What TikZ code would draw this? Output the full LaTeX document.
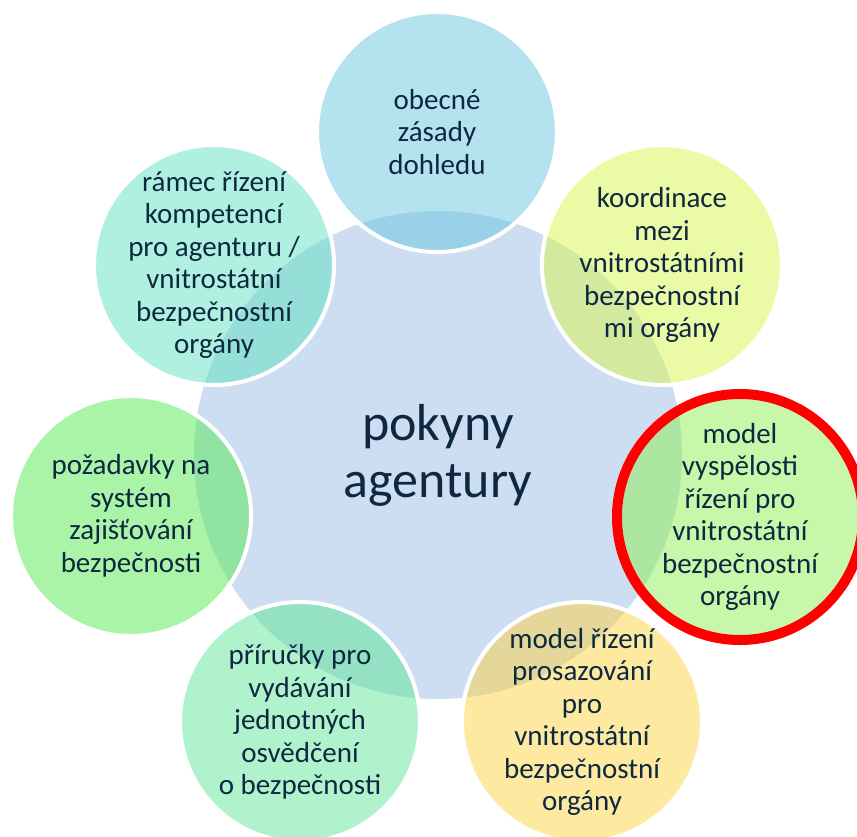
\documentclass[tikz,border=0pt]{standalone}
\usepackage{fontspec}
\setmainfont{Carlito}
\definecolor{centerc}{RGB}{205,221,242}
\definecolor{cT}{RGB}{105,199,223}
\definecolor{cTR}{RGB}{215,245,75}
\definecolor{cR}{RGB}{143,239,81}
\definecolor{cBR}{RGB}{251,211,65}
\definecolor{cBL}{RGB}{95,229,151}
\definecolor{cL}{RGB}{85,233,79}
\definecolor{cTL}{RGB}{97,225,193}
\definecolor{txt}{RGB}{14,40,65}
\definecolor{ring}{RGB}{255,0,0}
\tikzset{
  outer/.style={circle, minimum size=240pt, inner sep=0pt, draw=white, line width=4pt, fill opacity=0.5, draw opacity=1},
  lbl/.style={align=center, text=txt, inner sep=0pt, font=\fontsize{29}{32.5}\selectfont},
  centrelbl/.style={align=center, text=txt, inner sep=0pt, font=\fontsize{52}{57}\selectfont}
}
\begin{document}
\begin{tikzpicture}[x=1pt,y=-1pt]
\useasboundingbox (0,0) rectangle (857,836);
\node[circle, minimum size=488pt, inner sep=0pt, fill=centerc] (c) at (438,455) {};
\node[outer, fill=cT]  (t)  at (437,132) {};
\node[outer, fill=cTR] (tr) at (662,265) {};
\node[outer, fill=cR]  (r)  at (740,517) {};
\node[outer, fill=cBR] (br) at (582,722) {};
\node[outer, fill=cBL] (bl) at (300,722) {};
\node[outer, fill=cL]  (l)  at (131,516) {};
\node[outer, fill=cTL] (tl) at (214,265) {};
\node[circle, minimum size=246pt, inner sep=0pt, draw=ring, line width=10pt] (ring) at (r.center) {};
\node[centrelbl] (ct) at (c.center) {pokyny\\agentury};
\node[lbl] (tt)  at (t.center)  {obecné\\zásady\\dohledu};
\node[lbl] (trt) at (tr.center) {koordinace\\mezi\\vnitrostátními\\bezpečnostní\\mi orgány};
\node[lbl] (rt)  at (r.center)  {model\\vyspělosti\\řízení pro\\vnitrostátní\\bezpečnostní\\orgány};
\node[lbl] (brt) at (br.center) {model řízení\\prosazování\\pro\\vnitrostátní\\bezpečnostní\\orgány};
\node[lbl] (blt) at (bl.center) {příručky pro\\vydávání\\jednotných\\osvědčení\\o bezpečnosti};
\node[lbl] (lt)  at (l.center)  {požadavky na\\systém\\zajišťování\\bezpečnosti};
\node[lbl] (tlt) at (tl.center) {rámec řízení\\kompetencí\\pro agenturu /\\vnitrostátní\\bezpečnostní\\orgány};
\end{tikzpicture}
\end{document}
